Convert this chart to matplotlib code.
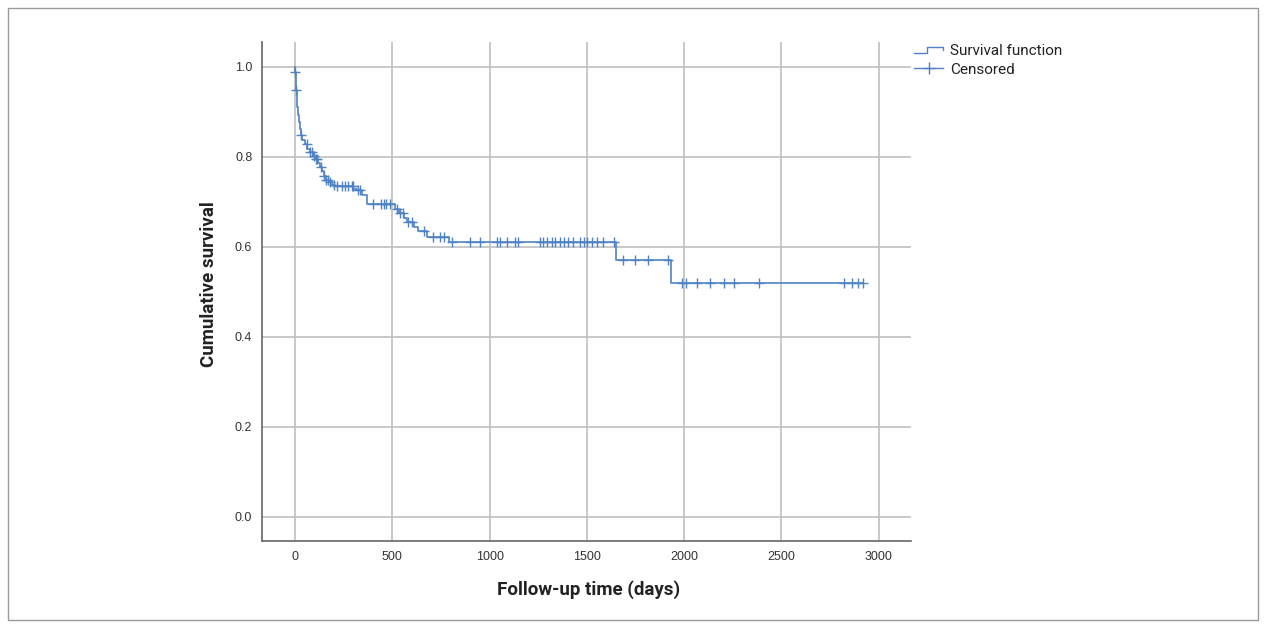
import numpy as np
import matplotlib
matplotlib.use("Agg")
import matplotlib.pyplot as plt
from matplotlib.lines import Line2D
from matplotlib.legend_handler import HandlerBase
from matplotlib.patches import Rectangle

# ---- data ----
event_times = [0, 1, 4, 8, 12, 16, 20, 25, 30, 38, 50, 62, 75, 90, 105, 118, 128, 140,
               148, 158, 175, 190, 205, 300, 320, 344, 368, 514, 535, 560, 575, 610,
               630, 680, 790, 1650, 1932]
survival = [1.0, 0.988, 0.948, 0.93, 0.91, 0.893, 0.878, 0.862, 0.848, 0.838, 0.828,
            0.818, 0.81, 0.802, 0.795, 0.786, 0.777, 0.768, 0.758, 0.749, 0.743, 0.738,
            0.734, 0.729, 0.725, 0.716, 0.694, 0.684, 0.674, 0.664, 0.654, 0.644, 0.634,
            0.622, 0.61, 0.57, 0.52]
censor_times = [2, 5, 32, 60, 78, 85, 95, 108, 115, 135, 150, 160, 170, 180, 200, 215,
                240, 255, 270, 293, 298, 324, 335, 400, 440, 455, 465, 490, 525, 540,
                555, 580, 600, 665, 710, 745, 765, 807, 899, 951, 1038, 1053, 1089,
                1130, 1146, 1259, 1274, 1295, 1321, 1336, 1362, 1382, 1403, 1428, 1465,
                1485, 1500, 1526, 1552, 1583, 1640, 1685, 1747, 1814, 1917, 1989, 2009,
                2066, 2133, 2205, 2256, 2384, 2821, 2862, 2891, 2920]
end_time = 2920
x_ticks = [0, 500, 1000, 1500, 2000, 2500, 3000]
y_ticks = [0.0, 0.2, 0.4, 0.6, 0.8, 1.0]

LINE = '#4f83c4'
NARROW = ['Liberation Sans Narrow', 'Roboto', 'DejaVu Sans']

fig = plt.figure(figsize=(12.66, 6.27), dpi=100)
ax = fig.add_axes([262/1266, 1-541/627, (911-262)/1266, (541-42)/627])

st = np.array(event_times + [end_time], dtype=float)
sv = np.array(survival + [survival[-1]], dtype=float)
ax.step(st, sv, where='post', color=LINE, lw=1.2, zorder=3)

ct = np.array(censor_times, dtype=float)
idx = np.searchsorted(np.array(event_times, dtype=float), ct, side='right') - 1
cy = np.array(survival)[idx]
ax.plot(ct, cy, linestyle='none', marker='+', ms=7.5, mew=1.0, color=LINE, zorder=4)

ax.set_xlim(-170, 3166)
ax.set_ylim(-0.054, 1.055)
ax.set_xticks(x_ticks)
ax.set_yticks(y_ticks)
ax.set_yticklabels([f'{v:.1f}' for v in y_ticks])
ax.grid(True, color='#bfbfbf', lw=1.2)
ax.set_axisbelow(True)
for s in ['top', 'right']:
    ax.spines[s].set_visible(False)
for s in ['left', 'bottom']:
    ax.spines[s].set_color('#666666')
    ax.spines[s].set_linewidth(1.2)
ax.tick_params(length=0, labelsize=9, colors='#333333', pad=7)
for lab in ax.get_xticklabels() + ax.get_yticklabels():
    lab.set_family(['Liberation Sans', 'DejaVu Sans'])

fig.text(589/1266, 1-590/627, 'Follow-up time (days)', ha='center', va='center',
         fontsize=13.5, fontweight='bold', family=NARROW, color='#222222')
fig.text(209/1266, 1-284/627, 'Cumulative survival', ha='center', va='center',
         rotation=90, fontsize=13.5, fontweight='bold', family=NARROW, color='#222222')


class StepHandler(HandlerBase):
    def create_artists(self, legend, orig, xd, yd, w, h, fs, trans):
        xs = [xd, xd + 0.45*w, xd + 0.45*w, xd + w, xd + w]
        ys = [yd + 0.15*h, yd + 0.15*h, yd + 0.75*h, yd + 0.75*h, yd + 0.45*h]
        ln = Line2D(xs, ys, color=LINE, lw=1.0, transform=trans)
        return [ln]


h1 = Line2D([], [], color=LINE, lw=1.0)
h2 = Line2D([], [], color=LINE, lw=1.0, marker='+', ms=9, mew=1.0)
leg = fig.legend([h1, h2], ['Survival function', 'Censored'],
                 handler_map={h1: StepHandler()},
                 loc='upper left', bbox_to_anchor=(914/1266, 1-44/627),
                 frameon=False, borderpad=0, borderaxespad=0, handlelength=1.9,
                 handletextpad=0.45, labelspacing=0.3,
                 prop={'family': NARROW, 'size': 11})
for t in leg.get_texts():
    t.set_color('#222222')

fig.patches.append(Rectangle((8/1266, 1-620/627), 1250/1266, 612/627,
                             transform=fig.transFigure, fill=False,
                             edgecolor='#9a9a9a', lw=1.0))

fig.savefig('out.png', dpi=100)
